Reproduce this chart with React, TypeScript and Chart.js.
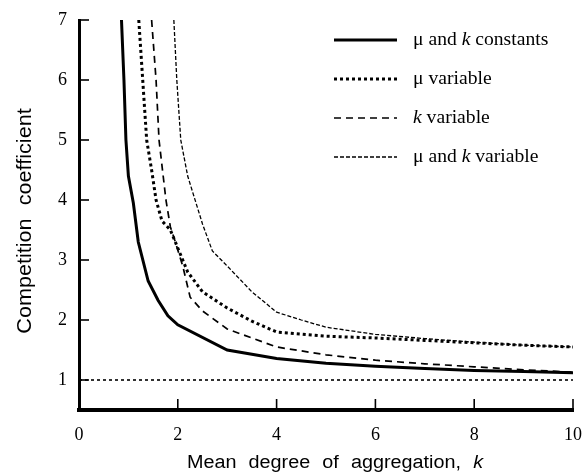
import React, { useEffect, useRef } from "react";
import { Chart, registerables } from "chart.js";
Chart.register(...registerables);

// μ and k constants
const kConst = [0.86, 0.91, 0.95, 1.0, 1.1, 1.2, 1.4, 1.6, 1.8, 2.0, 3.0, 4.0, 5.0, 6.0, 7.0, 8.0, 9.0, 10.0];
const cConst = [7.0, 6.0, 5.0, 4.4, 3.95, 3.3, 2.65, 2.33, 2.07, 1.92, 1.5, 1.36, 1.28, 1.23, 1.19, 1.16, 1.14, 1.12];

// μ variable
const kMu = [1.21, 1.29, 1.37, 1.47, 1.56, 1.68, 1.85, 2.0, 2.2, 2.5, 3.0, 3.5, 4.0, 5.0, 6.0, 7.0, 8.0, 9.0, 10.0];
const cMu = [7.0, 6.0, 5.0, 4.5, 4.0, 3.65, 3.5, 3.2, 2.8, 2.47, 2.2, 1.98, 1.8, 1.73, 1.7, 1.66, 1.62, 1.58, 1.55];

// k variable
const kK = [1.47, 1.56, 1.62, 1.76, 1.85, 1.95, 2.1, 2.25, 2.5, 3.0, 4.0, 5.0, 6.0, 7.0, 8.0, 9.0, 10.0];
const cK = [7.0, 6.0, 5.0, 4.0, 3.55, 3.3, 2.9, 2.38, 2.15, 1.85, 1.55, 1.42, 1.33, 1.27, 1.22, 1.17, 1.13];

// μ and k variable
const kBoth = [1.92, 1.98, 2.06, 2.2, 2.5, 2.7, 3.0, 3.5, 4.0, 4.5, 5.0, 6.0, 7.0, 8.0, 9.0, 10.0];
const cBoth = [7.0, 6.0, 5.0, 4.4, 3.6, 3.15, 2.9, 2.47, 2.13, 2.0, 1.88, 1.76, 1.69, 1.63, 1.58, 1.55];

// reference line at 1
const kRef = [0, 10];
const cRef = [1, 1];

const xTicks = [0, 2, 4, 6, 8, 10];
const yTicks = [1, 2, 3, 4, 5, 6, 7];
const legendLabels = ["μ and k constants", "μ variable", "k variable", "μ and k variable"];
const xTitle = "Mean degree of aggregation, k";
const yTitle = "Competition coefficient";

const pts = (xs: number[], ys: number[]) => xs.map((x, i) => ({ x, y: ys[i] }));

function drawRich(ctx: CanvasRenderingContext2D, text: string, x: number, y: number, font: (italic: boolean) => string) {
  const parts = text.split(/(\bk\b)/);
  let cx = x;
  for (const p of parts) {
    if (!p) continue;
    ctx.font = font(p === "k");
    ctx.fillText(p, cx, y);
    cx += ctx.measureText(p).width;
  }
  return cx - x;
}
function measureRich(ctx: CanvasRenderingContext2D, text: string, font: (italic: boolean) => string) {
  const parts = text.split(/(\bk\b)/);
  let w = 0;
  for (const p of parts) {
    if (!p) continue;
    ctx.font = font(p === "k");
    w += ctx.measureText(p).width;
  }
  return w;
}

const decorPlugin = {
  id: "decor",
  afterDraw(chart: any) {
    const ctx: CanvasRenderingContext2D = chart.ctx;
    const { left, bottom } = chart.chartArea;
    const xs = chart.scales.x;
    const ys = chart.scales.y;
    ctx.save();
    ctx.strokeStyle = "#000";
    ctx.fillStyle = "#000";
    ctx.setLineDash([]);
    ctx.lineWidth = 1.6;
    // inward ticks
    yTicks.forEach((v) => {
      const py = ys.getPixelForValue(v);
      ctx.beginPath();
      ctx.moveTo(left, py);
      ctx.lineTo(left + 10, py);
      ctx.stroke();
    });
    xTicks.forEach((v) => {
      if (v === 0) return;
      const px = xs.getPixelForValue(v);
      ctx.beginPath();
      ctx.moveTo(px, bottom);
      ctx.lineTo(px, bottom - 11);
      ctx.stroke();
    });

    // legend
    const serif = (it: boolean) => `${it ? "italic " : ""}18px "Liberation Serif"`;
    legendLabels.forEach((lab, i) => {
      const ds = chart.data.datasets[i];
      const y = 40 + i * 39;
      ctx.save();
      ctx.lineWidth = ds.borderWidth;
      ctx.setLineDash(ds.borderDash || []);
      ctx.lineCap = "butt";
      ctx.beginPath();
      ctx.moveTo(334, y);
      ctx.lineTo(397, y);
      ctx.stroke();
      ctx.restore();
      ctx.save();
      ctx.translate(413, y);
      ctx.scale(1.09, 1);
      ctx.textBaseline = "middle";
      ctx.textAlign = "left";
      drawRich(ctx, lab, 0, 0, serif);
      ctx.restore();
    });

    // axis titles
    const sans = (it: boolean) => `${it ? "italic " : ""}18px "Liberation Sans"`;
    ctx.save();
    (ctx as any).wordSpacing = "6px";
    ctx.textBaseline = "alphabetic";
    ctx.textAlign = "left";
    const sx = 1.1;
    const w = measureRich(ctx, xTitle, sans) * sx;
    ctx.translate(335 - w / 2, 468);
    ctx.scale(sx, 1);
    drawRich(ctx, xTitle, 0, 0, sans);
    ctx.restore();

    ctx.save();
    (ctx as any).wordSpacing = "6px";
    ctx.translate(31, 221);
    ctx.rotate(-Math.PI / 2);
    ctx.scale(1.2, 1.1);
    ctx.font = sans(false);
    ctx.textAlign = "center";
    ctx.textBaseline = "alphabetic";
    ctx.fillText(yTitle, 0, 0);
    ctx.restore();
    ctx.restore();
  },
};

const zeroPad = (s: any) => {
  s.paddingLeft = 0;
  s.paddingRight = 0;
  s.paddingTop = 0;
  s.paddingBottom = 0;
};

export default function App() {
  const ref = useRef<HTMLCanvasElement>(null);
  useEffect(() => {
    if (!ref.current) return;
    const black = "#000";
    const chart = new Chart(ref.current, {
      type: "line",
      data: {
        datasets: [
          { label: legendLabels[0], data: pts(kConst, cConst), borderColor: black, borderWidth: 3, pointRadius: 0, tension: 0 },
          { label: legendLabels[1], data: pts(kMu, cMu), borderColor: black, borderWidth: 3, borderDash: [3, 3], pointRadius: 0, tension: 0 },
          { label: legendLabels[2], data: pts(kK, cK), borderColor: black, borderWidth: 1.7, borderDash: [7, 5], pointRadius: 0, tension: 0 },
          { label: legendLabels[3], data: pts(kBoth, cBoth), borderColor: black, borderWidth: 1.3, borderDash: [4, 2], pointRadius: 0, tension: 0 },
          { label: "ref", data: pts(kRef, cRef), borderColor: black, borderWidth: 1.6, borderDash: [3, 3], pointRadius: 0, tension: 0 },
        ],
      },
      options: {
        animation: false,
        responsive: false,
        layout: { padding: { top: 20, right: 9, left: 0, bottom: 0 } },
        plugins: { legend: { display: false }, tooltip: { enabled: false } },
        scales: {
          x: {
            type: "linear",
            min: 0,
            max: 10,
            grid: { display: false, drawTicks: false },
            border: { display: true, width: 4, color: black },
            afterBuildTicks: (s: any) => { s.ticks = xTicks.map((v) => ({ value: v })); },
            afterFit: (s: any) => { s.height = 66; zeroPad(s); },
            ticks: { color: black, padding: 14, maxRotation: 0, font: { family: "Liberation Serif", size: 18 } },
          },
          y: {
            type: "linear",
            min: 0.5,
            max: 7,
            grid: { display: false, drawTicks: false },
            border: { display: true, width: 3, color: black },
            afterBuildTicks: (s: any) => { s.ticks = yTicks.map((v) => ({ value: v })); },
            afterFit: (s: any) => { s.width = 79; zeroPad(s); },
            ticks: { color: black, padding: 12, font: { family: "Liberation Serif", size: 18 } },
          },
        },
      },
      plugins: [decorPlugin],
    } as any);
    return () => chart.destroy();
  }, []);
  return (
    <div style={{ position: "absolute", left: 0, top: 0, width: 582, height: 476, background: "#fff" }}>
      <canvas ref={ref} width={582} height={476} style={{ width: 582, height: 476 }} />
    </div>
  );
}
